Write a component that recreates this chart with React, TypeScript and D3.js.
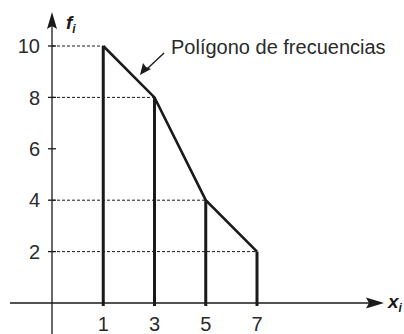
import React from "react";
import * as d3 from "d3";

const xValues = [1, 3, 5, 7];
const frequencies = [10, 8, 4, 2];
const yTicks = [2, 4, 6, 8, 10];
const xTickLabels = ["1", "3", "5", "7"];
const annotationText = "Polígono de frecuencias";

const W = 404;
const H = 334;

export default function App() {
  const x = d3.scaleLinear().domain([-1, 7]).range([52, 257]);
  const y = d3.scaleLinear().domain([0, 10]).range([303, 46]);
  const x0 = x(-1);
  const y0 = y(0);
  const poly = d3
    .line<number>()
    .x((_, i) => x(xValues[i]))
    .y((d) => y(d));
  const font = "'Liberation Sans', Arial, sans-serif";
  const ink = "#1a1a1a";
  const textInk = "#2a2a2a";
  return (
    <svg
      width={W}
      height={H}
      style={{ position: "absolute", left: 0, top: 0 }}
      fontFamily={font}
    >
      <rect width={W} height={H} fill="#fff" />
      {/* dashed guide lines */}
      {frequencies.map((f, i) => (
        <line
          key={"d" + i}
          x1={x0}
          x2={x(xValues[i])}
          y1={y(f)}
          y2={y(f)}
          stroke={ink}
          strokeWidth={1}
          strokeDasharray="3,2"
        />
      ))}
      {/* axes */}
      <line x1={10} x2={372} y1={y0} y2={y0} stroke={ink} strokeWidth={1.3} />
      <path d={`M${384},${y0} L${366},${y0 - 5.5} L${369},${y0} L${366},${y0 + 5.5} Z`} fill={ink} />
      <line x1={x0} x2={x0} y1={25} y2={334} stroke={ink} strokeWidth={1.3} />
      <path d={`M${x0},12 L${x0 - 5},29 L${x0},26 L${x0 + 5},29 Z`} fill={ink} />
      {/* y ticks */}
      {yTicks.map((t) => (
        <g key={"yt" + t}>
          <line x1={x0 - 4} x2={x0 + 4} y1={y(t)} y2={y(t)} stroke={ink} strokeWidth={1.3} />
          <text
            x={x0 - 12}
            y={y(t)}
            dy="0.36em"
            textAnchor="end"
            fontSize={20}
            fill={textInk}
          >
            {t}
          </text>
        </g>
      ))}
      {/* bars */}
      {frequencies.map((f, i) => (
        <line
          key={"b" + i}
          x1={x(xValues[i])}
          x2={x(xValues[i])}
          y1={y0 + 3}
          y2={y(f)}
          stroke={ink}
          strokeWidth={3}
        />
      ))}
      {/* polygon */}
      <path d={poly(frequencies) || ""} fill="none" stroke={ink} strokeWidth={2.6} strokeLinejoin="miter" />
      {/* x tick labels */}
      {xTickLabels.map((l, i) => (
        <text
          key={"xl" + i}
          x={x(xValues[i])}
          y={331}
          textAnchor="middle"
          fontSize={20}
          fill={textInk}
        >
          {l}
        </text>
      ))}
      {/* axis labels */}
      <text x={66} y={29} fontSize={19} fontWeight="bold" fontStyle="italic" fill={ink}>
        f
        <tspan fontSize={12} dy={4}>i</tspan>
      </text>
      <text x={388} y={308} fontSize={19} fontWeight="bold" fontStyle="italic" fill={ink}>
        x
        <tspan fontSize={12} dy={4}>i</tspan>
      </text>
      {/* annotation */}
      <line x1={164} y1={53} x2={147} y2={69} stroke={ink} strokeWidth={1.3} />
      <path d="M140,75 L143,63 L146,67 L151,69 Z" fill={ink} />
      <text x={171} y={54} fontSize={20} fill={textInk}>
        {annotationText}
      </text>
    </svg>
  );
}
